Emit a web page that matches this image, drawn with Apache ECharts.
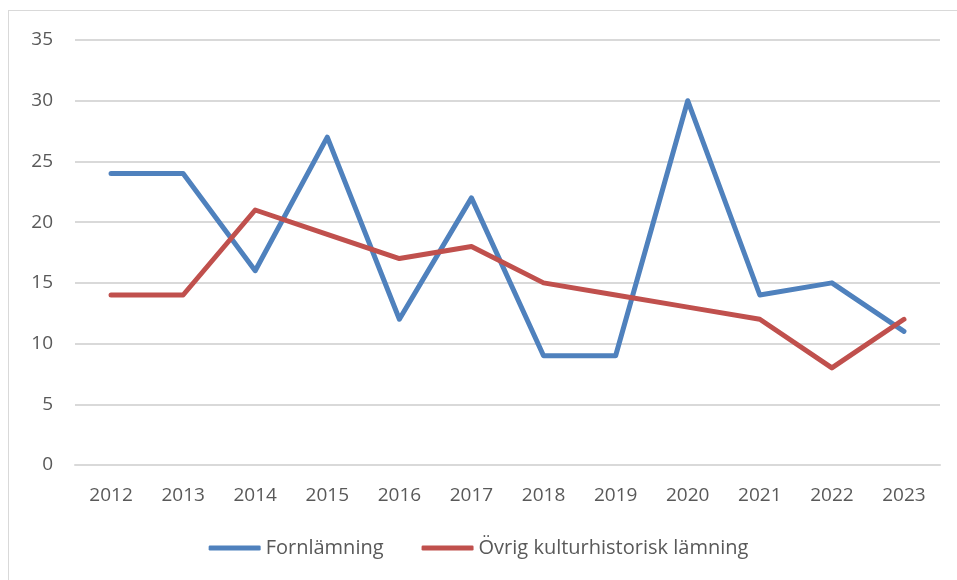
<!DOCTYPE html>
<html>
<head>
<meta charset="utf-8">
<script src="https://cdn.jsdelivr.net/npm/echarts@6/dist/echarts.min.js"></script>
<style>
  html, body { margin: 0; padding: 0; background: #fff; }
  #frame { position: absolute; left: 8px; top: 10px; width: 960px; height: 580px; border: 1px solid #d9d9d9; }
  #chart { position: absolute; left: 0; top: 0; width: 957px; height: 580px; }
</style>
</head>
<body>
<div id="frame"></div>
<div id="chart"></div>
<script>
const years = ['2012', '2013', '2014', '2015', '2016', '2017', '2018', '2019', '2020', '2021', '2022', '2023'];
const fornlamning = [24, 24, 16, 27, 12, 22, 9, 9, 30, 14, 15, 11];
const ovrig = [14, 14, 21, 19, 17, 18, 15, 14, 13, 12, 8, 12];

const chart = echarts.init(document.getElementById('chart'));
const textColor = '#595959';
const font = '"Open Sans", "Noto Sans", sans-serif';

chart.setOption({
  animation: false,
  textStyle: { fontFamily: font },
  grid: { left: 75, right: 17, top: 40, bottom: 115 },
  legend: {
    bottom: 17,
    left: 'center',
    itemWidth: 52,
    itemHeight: 5,
    itemGap: 38,
    icon: 'roundRect',
    textStyle: { color: textColor, fontSize: 20, fontFamily: font },
    data: ['Fornlämning', 'Övrig kulturhistorisk lämning']
  },
  xAxis: {
    type: 'category',
    data: years,
    boundaryGap: true,
    axisLine: { lineStyle: { color: '#d9d9d9', width: 2 } },
    axisTick: { show: false },
    axisLabel: { color: textColor, fontSize: 19, margin: 21 }
  },
  yAxis: {
    type: 'value',
    min: 0,
    max: 35,
    interval: 5,
    axisLine: { show: false },
    axisTick: { show: false },
    axisLabel: { color: textColor, fontSize: 19, margin: 22 },
    splitLine: { lineStyle: { color: '#d9d9d9', width: 2 } }
  },
  series: [
    {
      name: 'Fornlämning',
      type: 'line',
      data: fornlamning,
      symbol: 'none',
      lineStyle: { color: '#4f81bd', width: 5, cap: 'round', join: 'round' },
      itemStyle: { color: '#4f81bd' }
    },
    {
      name: 'Övrig kulturhistorisk lämning',
      type: 'line',
      data: ovrig,
      symbol: 'none',
      lineStyle: { color: '#c0504d', width: 5, cap: 'round', join: 'round' },
      itemStyle: { color: '#c0504d' }
    }
  ]
});
</script>
</body>
</html>
